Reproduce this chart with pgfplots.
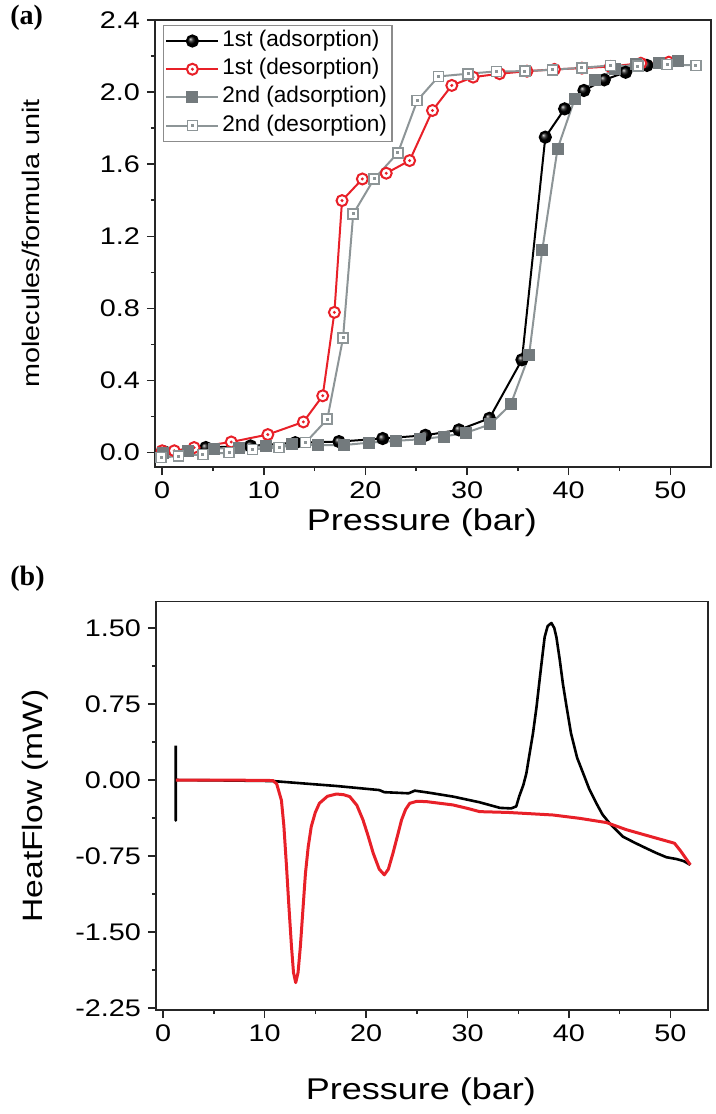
\documentclass[border=0pt]{standalone}
\usepackage{fontspec}
\setmainfont{Liberation Sans}
\newfontfamily\widesans{Liberation Sans}[FakeStretch=1.2]
\newfontfamily\labelserif{Liberation Serif}
\usepackage{pgfplots}
\pgfplotsset{compat=1.18}
\usetikzlibrary{shadings}

\definecolor{mred}{RGB}{232,32,40}
\definecolor{grayA}{HTML}{737A7D}
\definecolor{grayB}{HTML}{8D9597}

% open circle with a centre dot
\pgfdeclareplotmark{circdot}{%
  \pgfsetfillcolor{white}%
  \pgfpathcircle{\pgfpointorigin}{\pgfplotmarksize}%
  \pgfusepathqfillstroke
  \pgfsetfillcolor{mred}%
  \pgfpathcircle{\pgfpointorigin}{0.3\pgfplotmarksize}%
  \pgfusepathqfill
}
% open square with a centre dot
\pgfdeclareplotmark{sqdot}{%
  \pgfsetfillcolor{white}%
  \pgfpathrectangle{\pgfpoint{-\pgfplotmarksize}{-\pgfplotmarksize}}{\pgfpoint{2\pgfplotmarksize}{2\pgfplotmarksize}}%
  \pgfusepathqfillstroke
  \pgfsetfillcolor{grayB}%
  \pgfpathrectangle{\pgfpoint{-0.3\pgfplotmarksize}{-0.3\pgfplotmarksize}}{\pgfpoint{0.6\pgfplotmarksize}{0.6\pgfplotmarksize}}%
  \pgfusepathqfill
}

\pgfplotsset{
  common/.style={
    scale only axis,
    anchor=south west,
    axis line style={black!85, line width=0.75pt},
    tick style={black!85, line width=0.75pt},
    tick align=outside,
    xtick pos=bottom, ytick pos=left,
    major tick length=4pt, minor tick length=2pt,
    minor x tick num=1, minor y tick num=1,
    xtick={0,10,...,50},
    tick label style={font=\fontsize{12}{13}\widesans},
    /pgf/number format/assume math mode=true,
    label style={font=\fontsize{15}{16}\widesans},
  },
}

\begin{document}
\begin{tikzpicture}
\useasboundingbox (0,0) rectangle (358pt,-557pt);

\node[anchor=north west, inner sep=0pt, font=\fontsize{14}{15}\labelserif\bfseries] at (5pt,-2.5pt) {(a)};
\node[anchor=north west, inner sep=0pt, font=\fontsize{14}{15}\labelserif\bfseries] at (5pt,-283pt) {(b)};

\begin{axis}[common,
  at={(77.5pt,-233.5pt)}, width=278pt, height=223.5pt,
  xmin=-0.7, xmax=54, ymin=-0.08, ymax=2.4,
  ytick={0,0.4,...,2.4},
  yticklabel style={/pgf/number format/fixed, /pgf/number format/fixed zerofill, /pgf/number format/precision=1},
  xlabel={Pressure (bar)},
  xlabel style={at={(axis description cs:0.48,-0.125)}, anchor=center},
  ylabel={molecules/formula unit},
  ylabel style={at={(axis description cs:-0.223,0.5)}, anchor=center, font=\fontsize{12}{13}\widesans},
  legend image code/.code={\draw[mark repeat=2,mark phase=2,#1] plot coordinates {(0pt,0pt) (13pt,0pt) (26pt,0pt)};},
  legend cell align=left,
  legend style={at={(0.014,0.989)}, anchor=north west, draw=gray!90, line width=0.6pt,
    font=\fontsize{11.3}{12}\selectfont, inner xsep=1pt, inner ysep=1pt, row sep=0.6pt,
    nodes={text height=8pt, text depth=2.5pt, inner sep=1.5pt}},
]
\addplot[black, line width=1pt, mark=ball, mark size=2.8pt, mark options={ball color=black}] coordinates {
(0.2,0.005) (4.3,0.028) (8.7,0.037) (13.1,0.055) (17.4,0.061) (21.7,0.078) (25.9,0.096) (29.2,0.126) (32.2,0.19) (35.4,0.515) (37.7,1.75) (39.6,1.907) (41.5,2.009) (43.5,2.068) (45.6,2.11) (47.7,2.148)
};
\addlegendentry{1st (adsorption)}
\addplot[mred, line width=1pt, mark=circdot, mark size=2.75pt, mark options={line width=1pt}] coordinates {
(0,0.01) (1.2,0.01) (3.15,0.028) (6.8,0.059) (10.4,0.1) (13.9,0.17) (15.8,0.315) (16.95,0.778) (17.7,1.398) (19.7,1.518) (22.05,1.55) (24.35,1.62) (26.6,1.898) (28.5,2.037) (30.6,2.083) (33.2,2.102) (35.9,2.116) (38.6,2.126) (41.3,2.133) (44.1,2.142) (47.1,2.16) (49.85,2.166)
};
\addlegendentry{1st (desorption)}
\addplot[grayB, line width=1pt, mark=square*, mark size=2.5pt, mark options={grayA, fill=grayA}] coordinates {
(0.1,-0.005) (2.5,0.01) (5.1,0.022) (7.6,0.028) (10.2,0.035) (12.8,0.046) (15.3,0.042) (17.9,0.042) (20.35,0.055) (23.0,0.065) (25.4,0.074) (27.7,0.089) (29.9,0.11) (32.3,0.157) (34.3,0.268) (36.1,0.54) (37.4,1.124) (38.9,1.685) (40.6,1.963) (42.6,2.065) (44.6,2.13) (46.6,2.157) (48.9,2.161) (50.8,2.17)
};
\addlegendentry{2nd (adsorption)}
\addplot[grayB, line width=1pt, mark=sqdot, mark size=2.5pt, mark options={line width=0.8pt}] coordinates {
(-0.1,-0.028) (1.6,-0.019) (4.0,-0.01) (6.6,0.0) (8.9,0.018) (11.5,0.028) (14.1,0.055) (16.25,0.185) (17.8,0.636) (18.8,1.324) (20.85,1.518) (23.2,1.663) (25.1,1.953) (27.2,2.087) (30.1,2.102) (32.9,2.115) (35.7,2.116) (38.4,2.124) (41.3,2.135) (44.1,2.148) (46.8,2.144) (49.7,2.153) (52.5,2.148)
};
\addlegendentry{2nd (desorption)}
\end{axis}

\begin{axis}[common,
  at={(78pt,-505pt)}, width=276pt, height=204.15pt,
  xmin=-0.7, xmax=53.7, ymin=-2.27, ymax=1.76,
  ytick={-2.25,-1.5,-0.75,0,0.75,1.5},
  yticklabel style={/pgf/number format/fixed, /pgf/number format/fixed zerofill, /pgf/number format/precision=2},
  xlabel={Pressure (bar)},
  xlabel style={at={(axis description cs:0.48,-0.201)}, anchor=center},
  ylabel={HeatFlow (mW)},
  ylabel style={at={(axis description cs:-0.219,0.5)}, anchor=center, font=\fontsize{14}{15}\widesans},
]
\addplot[black, line width=1.3pt, line join=round] coordinates {
(1.25,0.34) (1.25,-0.40) (1.25,0) (5,-0.003) (10.8,-0.01) (14,-0.035) (17.1,-0.059) (21.3,-0.099) (21.8,-0.12) (24.2,-0.131) (24.8,-0.105) (26.2,-0.125) (28.6,-0.164) (31.2,-0.22) (33.2,-0.275) (34.3,-0.28) (34.8,-0.26) (35.1,-0.16) (35.5,-0.05) (35.8,0.066) (36.1,0.25) (36.45,0.46) (36.8,0.72) (37.1,0.985) (37.35,1.2) (37.6,1.41) (37.9,1.52) (38.27,1.55) (38.55,1.5) (38.76,1.41) (39.1,1.18) (39.4,0.95) (39.8,0.7) (40.2,0.46) (40.8,0.22) (41.4,0.066) (42.0,-0.09) (42.7,-0.23) (43.3,-0.34) (44.0,-0.427) (45.3,-0.558) (46.5,-0.62) (47.6,-0.673) (48.6,-0.72) (49.6,-0.762) (50.6,-0.78) (51.3,-0.80) (51.96,-0.837)
};
\addplot[mred, line width=1.5pt, line join=round] coordinates {
(1.25,0) (6,0) (10.84,-0.005) (11.2,-0.04) (11.66,-0.2) (11.9,-0.45) (12.16,-0.85) (12.4,-1.25) (12.65,-1.64) (12.85,-1.9) (13.07,-2.0) (13.3,-1.9) (13.53,-1.64) (13.8,-1.25) (14.03,-0.92) (14.3,-0.66) (14.6,-0.46) (15.0,-0.32) (15.4,-0.23) (16.2,-0.16) (17.08,-0.138) (17.8,-0.145) (18.4,-0.164) (19.1,-0.25) (19.7,-0.394) (20.2,-0.55) (20.7,-0.72) (21.3,-0.88) (21.8,-0.936) (22.2,-0.88) (22.66,-0.72) (23.1,-0.55) (23.5,-0.394) (23.9,-0.29) (24.3,-0.23) (25.0,-0.21) (25.95,-0.213) (28.57,-0.246) (30.0,-0.28) (31.2,-0.312) (34,-0.32) (38.4,-0.345) (41.05,-0.378) (43.7,-0.42) (45.65,-0.49) (48.3,-0.565) (50.4,-0.624) (51.0,-0.70) (51.96,-0.837)
};
\end{axis}
\end{tikzpicture}
\end{document}
